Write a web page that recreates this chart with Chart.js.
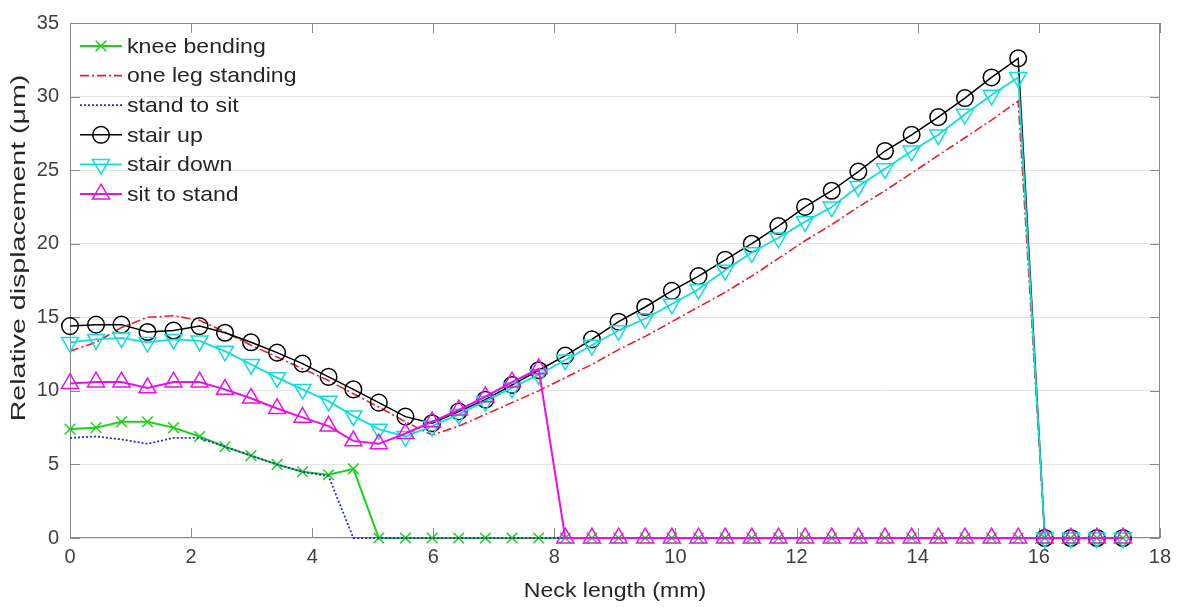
<!DOCTYPE html>
<html>
<head>
<meta charset="utf-8">
<script src="https://cdn.jsdelivr.net/npm/chart.js@4.4.1/dist/chart.umd.min.js"></script>
<style>
html,body{margin:0;padding:0;background:#ffffff;}
#wrap{width:1178px;height:607px;position:relative;}
</style>
</head>
<body>
<div id="wrap"><canvas id="c" width="1178" height="607"></canvas></div>
<script>
// ---- data ----
const neckLength = [0, 0.43, 0.85, 1.28, 1.71, 2.14, 2.56, 2.99, 3.42, 3.84, 4.27, 4.68, 5.10, 5.54, 5.98, 6.42, 6.86, 7.30, 7.74, 8.18, 8.62, 9.06, 9.50, 9.94, 10.38, 10.82, 11.26, 11.70, 12.14, 12.58, 13.02, 13.46, 13.90, 14.34, 14.78, 15.22, 15.66, 16.10, 16.53, 16.96, 17.39];
const kneeBending = [7.4, 7.5, 7.9, 7.9, 7.5, 6.9, 6.2, 5.6, 5.0, 4.5, 4.3, 4.7, 0, 0, 0, 0, 0, 0, 0, 0, 0, 0, 0, 0, 0, 0, 0, 0, 0, 0, 0, 0, 0, 0, 0, 0, 0, 0, 0, 0, 0];
const oneLegStanding = [12.7, 13.3, 14.3, 15.0, 15.1, 14.8, 14.0, 13.1, 12.3, 11.5, 10.7, 9.8, 8.9, 7.9, 7.0, 7.6, 8.4, 9.2, 10.0, 10.9, 11.8, 12.8, 13.7, 14.7, 15.7, 16.7, 17.8, 19.0, 20.2, 21.3, 22.5, 23.6, 24.8, 26.0, 27.2, 28.4, 29.7, 0, 0, 0, 0];
const standToSit = [6.8, 6.9, 6.7, 6.4, 6.8, 6.8, 6.2, 5.6, 5.0, 4.5, 4.2, 0, 0, 0, 0, 0, 0, 0, 0, 0, 0, 0, 0, 0, 0, 0, 0, 0, 0, 0, 0, 0, 0, 0, 0, 0, 0, 0, 0, 0, 0];
const stairUp = [14.4, 14.5, 14.5, 14.0, 14.1, 14.4, 13.95, 13.3, 12.6, 11.85, 10.95, 10.1, 9.2, 8.25, 7.8, 8.6, 9.4, 10.4, 11.4, 12.4, 13.5, 14.7, 15.7, 16.8, 17.8, 18.9, 20.0, 21.2, 22.5, 23.6, 24.9, 26.3, 27.4, 28.6, 29.9, 31.3, 32.6, 0, 0, 0, 0];
const stairDown = [13.3, 13.5, 13.6, 13.3, 13.5, 13.4, 12.7, 11.8, 10.9, 10.1, 9.3, 8.3, 7.4, 6.9, 7.6, 8.4, 9.3, 10.2, 11.1, 12.1, 13.1, 14.1, 14.9, 15.9, 16.9, 18.2, 19.4, 20.4, 21.5, 22.5, 23.9, 25.1, 26.3, 27.4, 28.8, 30.1, 31.3, 0, 0, 0, 0];
const sitToStand = [10.5, 10.6, 10.6, 10.2, 10.6, 10.6, 10.1, 9.5, 8.8, 8.2, 7.6, 6.6, 6.4, 7.1, 7.9, 8.7, 9.6, 10.6, 11.5, 0, 0, 0, 0, 0, 0, 0, 0, 0, 0, 0, 0, 0, 0, 0, 0, 0, 0, 0, 0, 0, 0];
const seriesNames = ['knee bending', 'one leg standing', 'stand to sit', 'stair up', 'stair down', 'sit to stand'];
const xTickValues = [0, 2, 4, 6, 8, 10, 12, 14, 16, 18];
const yTickValues = [0, 5, 10, 15, 20, 25, 30, 35];
const xTitle = 'Neck length (mm)';
const yTitle = 'Relative displacement (\u03bcm)';

const FONT = '"Liberation Sans", Arial, Helvetica, sans-serif';
const pts = (ys) => neckLength.map((x, i) => ({x: x, y: ys[i]}));

const styles = [
  {data: kneeBending, color: '#18d418', dash: [], marker: 'crossRot', r: 7.5, rot: 0, lw: 2},
  {data: oneLegStanding, color: '#e8202a', dash: [9, 3, 2, 3], marker: false, r: 0, rot: 0, lw: 1.6},
  {data: standToSit, color: '#2a2ad8', dash: [2, 2], marker: false, r: 0, rot: 0, lw: 1.8},
  {data: stairUp, color: '#000000', dash: [], marker: 'circle', r: 8.3, rot: 0, lw: 1.5},
  {data: stairDown, color: '#12dede', dash: [], marker: 'triangle', r: 9.8, rot: 180, lw: 1.8},
  {data: sitToStand, color: '#ea10ea', dash: [], marker: 'triangle', r: 9.8, rot: 0, lw: 2}
];

const datasets = styles.map((s, i) => ({
  label: seriesNames[i],
  data: pts(s.data),
  borderColor: s.color,
  backgroundColor: 'rgba(0,0,0,0)',
  borderWidth: s.lw,
  borderDash: s.dash,
  pointStyle: s.marker || 'circle',
  pointRadius: s.marker ? s.r : 0,
  pointHoverRadius: s.marker ? s.r : 0,
  pointRotation: s.rot,
  pointBorderColor: s.color,
  pointBackgroundColor: 'rgba(0,0,0,0)',
  pointBorderWidth: 1.5,
  showLine: true,
  fill: false,
  tension: 0,
  clip: false,
  order: 10 - i
}));

function drawMarker(ctx, style, x, y, r, rot) {
  ctx.beginPath();
  if (style === 'circle') {
    ctx.arc(x, y, r, 0, Math.PI * 2);
  } else if (style === 'triangle') {
    let a = rot * Math.PI / 180;
    for (let k = 0; k < 3; k++) {
      const px = x + Math.sin(a) * r, py = y - Math.cos(a) * r;
      if (k === 0) ctx.moveTo(px, py); else ctx.lineTo(px, py);
      a += 2 * Math.PI / 3;
    }
    ctx.closePath();
  } else if (style === 'crossRot') {
    const d = r * Math.SQRT1_2;
    ctx.moveTo(x - d, y - d); ctx.lineTo(x + d, y + d);
    ctx.moveTo(x + d, y - d); ctx.lineTo(x - d, y + d);
  }
  ctx.stroke();
}

// text drawn with a horizontal stretch to match the reference's wide lettering
function stretchedText(ctx, text, x, y, sx, size, align, angle) {
  ctx.save();
  ctx.translate(x, y);
  if (angle) ctx.rotate(angle);
  ctx.scale(sx, 1);
  ctx.font = size + 'px ' + FONT;
  ctx.textAlign = align;
  ctx.textBaseline = 'middle';
  ctx.fillStyle = '#262626';
  ctx.fillText(text, 0, 0);
  ctx.restore();
}

const framePlugin = {
  id: 'frame',
  beforeDatasetsDraw(chart) {
    const ctx = chart.ctx;
    const {left, right, top, bottom} = chart.chartArea;
    const xs = chart.scales.x, ys = chart.scales.y;
    ctx.save();
    ctx.strokeStyle = '#8a8a8a';
    ctx.lineWidth = 1;
    ctx.setLineDash([]);
    ctx.strokeRect(Math.round(left) + 0.5, Math.round(top) + 0.5, Math.round(right - left) - 1, Math.round(bottom - top) - 1);
    ctx.beginPath();
    xTickValues.forEach(v => {
      const p = Math.round(xs.getPixelForValue(v)) + 0.5;
      ctx.moveTo(p, bottom); ctx.lineTo(p, bottom - 10);
      ctx.moveTo(p, top); ctx.lineTo(p, top + 10);
    });
    yTickValues.forEach(v => {
      const p = Math.round(ys.getPixelForValue(v)) + 0.5;
      ctx.moveTo(left, p); ctx.lineTo(left + 10, p);
      ctx.moveTo(right, p); ctx.lineTo(right - 10, p);
    });
    ctx.stroke();
    ctx.restore();
  }
};

const textPlugin = {
  id: 'titlesAndLegend',
  afterDraw(chart) {
    const ctx = chart.ctx;
    const {left, right, top, bottom} = chart.chartArea;
    // axis titles
    stretchedText(ctx, xTitle, (left + right) / 2, 591, 1.1, 21, 'center', 0);
    stretchedText(ctx, yTitle, 19, 248, 1.36, 21, 'center', -Math.PI / 2);
    // legend inside the plot, top-left
    const x0 = 80, x1 = 122, tx = 127;
    ctx.save();
    styles.forEach((s, i) => {
      const y = 46 + i * 29.6;
      ctx.strokeStyle = s.color;
      ctx.lineWidth = s.lw;
      ctx.setLineDash(s.dash);
      ctx.beginPath(); ctx.moveTo(x0, y); ctx.lineTo(x1, y); ctx.stroke();
      ctx.setLineDash([]);
      ctx.lineWidth = 1.5;
      if (s.marker) drawMarker(ctx, s.marker, (x0 + x1) / 2, y, s.r, s.rot);
      stretchedText(ctx, seriesNames[i], tx, y + 1, 1.1, 21, 'left', 0);
    });
    ctx.restore();
  }
};

new Chart(document.getElementById('c'), {
  type: 'line',
  data: {datasets: datasets},
  options: {
    responsive: false,
    animation: false,
    devicePixelRatio: 1,
    layout: {padding: {left: 0, right: 18, top: 17, bottom: 0}},
    plugins: {legend: {display: false}, tooltip: {enabled: false}},
    scales: {
      x: {
        type: 'linear', min: 0, max: 18,
        afterBuildTicks: (s) => { s.ticks = xTickValues.map(v => ({value: v})); },
        afterFit: (s) => { s.height = 69; },
        grid: {display: false, drawTicks: false},
        border: {display: false},
        ticks: {color: '#404040', font: {family: FONT, size: 20}, padding: 7, maxRotation: 0, autoSkip: false},
        title: {display: false, text: xTitle}
      },
      y: {
        type: 'linear', min: 0, max: 35,
        afterBuildTicks: (s) => { s.ticks = yTickValues.map(v => ({value: v})); },
        afterFit: (s) => { s.width = 70; },
        grid: {color: '#e4e4e4', lineWidth: 1, drawTicks: false},
        border: {display: false},
        ticks: {color: '#404040', font: {family: FONT, size: 20}, padding: 11},
        title: {display: false, text: yTitle}
      }
    }
  },
  plugins: [framePlugin, textPlugin]
});
</script>
</body>
</html>
